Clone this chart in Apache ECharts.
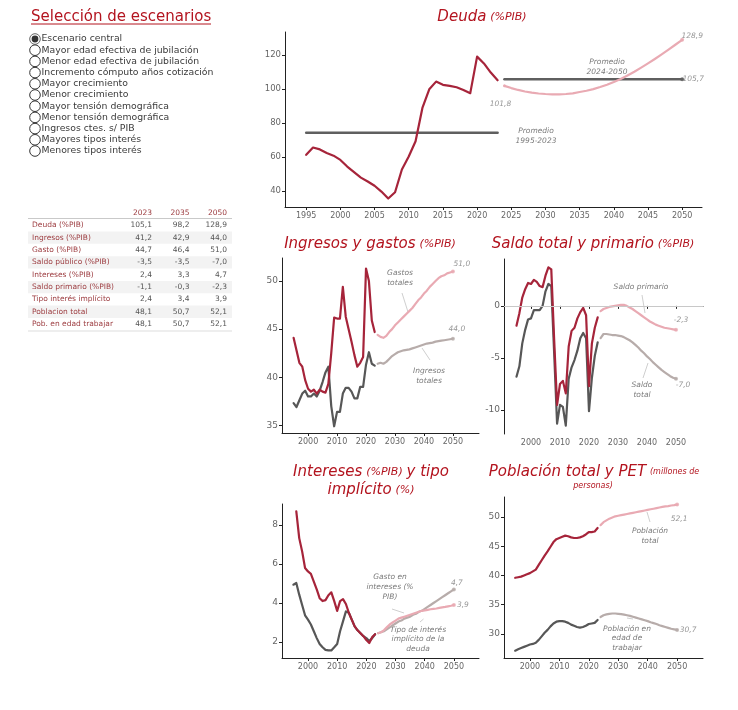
<!DOCTYPE html>
<html><head><meta charset="utf-8">
<script src="https://cdn.jsdelivr.net/npm/echarts@6/dist/echarts.min.js"></script>
<style>html,body{margin:0;padding:0;background:#fff}#c{width:738px;height:710px}</style>
</head><body><div id="c"></div>
<script>
// ---------------- DATA ----------------
const HIST_START = 1995;
const PROJ_START = 2024;
const TIPO_START = 1996;

const debtHist = [61.2, 65.5, 64.4, 62.3, 60.7, 58.2, 54.3, 51.0, 47.8, 45.5, 43.0, 39.6, 35.5, 39.2, 52.6, 60.2, 69.2, 88.8, 99.8, 104.3, 102.4, 101.8, 101.0, 99.4, 97.5, 119.0, 115.0, 109.6, 105.1];
const debtProj = [101.8, 100.5, 99.4, 98.5, 97.8, 97.3, 97.0, 96.8, 96.8, 97.0, 97.4, 98.2, 98.9, 99.9, 101.1, 102.5, 104.1, 105.9, 107.9, 110.1, 112.5, 115.0, 117.6, 120.3, 123.1, 126.0, 128.9];
const debtAvgHist = 74.2;
const debtAvgProj = 105.7;

const gastoHist = [44.1, 42.8, 41.5, 41.1, 39.7, 38.8, 38.5, 38.7, 38.3, 38.7, 38.5, 38.4, 39.3, 42.5, 46.2, 46.1, 46.1, 49.4, 46.3, 45.0, 43.7, 42.3, 41.1, 41.5, 42.1, 51.3, 50.0, 45.9, 44.7];
const gastoProj = [44.4, 44.2, 44.1, 44.3, 44.7, 45.0, 45.4, 45.7, 46.0, 46.3, 46.6, 46.9, 47.2, 47.6, 48.0, 48.3, 48.7, 49.0, 49.4, 49.7, 50.0, 50.3, 50.5, 50.6, 50.8, 50.9, 51.0];
const ingresoHist = [37.3, 36.9, 37.6, 38.3, 38.6, 38.0, 38.0, 38.3, 38.0, 38.6, 39.5, 40.5, 41.1, 37.0, 34.9, 36.4, 36.4, 38.3, 38.9, 38.9, 38.5, 37.8, 37.8, 39.0, 39.0, 41.3, 42.6, 41.4, 41.2];
const ingresoProj = [41.4, 41.5, 41.4, 41.6, 41.9, 42.2, 42.4, 42.6, 42.7, 42.8, 42.85, 42.9, 43.0, 43.1, 43.2, 43.3, 43.4, 43.5, 43.55, 43.6, 43.7, 43.75, 43.8, 43.85, 43.9, 43.95, 44.0];

const primHist = [-1.9, -0.7, 0.8, 1.6, 2.2, 2.1, 2.5, 2.3, 1.9, 1.8, 2.9, 3.7, 3.5, -3.3, -9.5, -7.5, -7.2, -8.4, -3.9, -2.4, -2.1, -1.2, -0.6, -0.2, -0.9, -7.7, -3.6, -2.1, -1.1];
const primProj = [-0.5, -0.3, -0.2, -0.1, -0.05, 0.0, 0.05, 0.1, 0.1, 0.0, -0.15, -0.3, -0.5, -0.7, -0.9, -1.1, -1.3, -1.5, -1.65, -1.8, -1.9, -2.0, -2.1, -2.15, -2.2, -2.25, -2.3];
const totHist = [-6.8, -5.8, -3.6, -2.3, -1.3, -1.2, -0.4, -0.4, -0.4, 0.0, 1.4, 2.1, 1.9, -4.6, -11.3, -9.5, -9.7, -11.5, -7.0, -5.9, -5.2, -4.3, -3.1, -2.6, -3.1, -10.1, -6.9, -4.8, -3.5];
const totProj = [-3.1, -2.7, -2.7, -2.75, -2.8, -2.8, -2.85, -2.9, -3.0, -3.15, -3.3, -3.5, -3.75, -4.0, -4.3, -4.55, -4.85, -5.1, -5.4, -5.65, -5.9, -6.15, -6.35, -6.55, -6.75, -6.9, -7.0];

const tipoHist = [8.7, 7.33, 6.65, 5.8, 5.62, 5.5, 5.1, 4.7, 4.25, 4.1, 4.15, 4.4, 4.55, 4.1, 3.6, 4.1, 4.2, 3.95, 3.5, 3.15, 2.8, 2.6, 2.45, 2.3, 2.1, 1.95, 2.25, 2.4];
const tipoProj = [2.45, 2.5, 2.6, 2.75, 2.9, 3.0, 3.1, 3.2, 3.25, 3.3, 3.35, 3.4, 3.45, 3.5, 3.55, 3.6, 3.62, 3.65, 3.68, 3.7, 3.72, 3.75, 3.78, 3.8, 3.83, 3.86, 3.9];
const interHist = [4.94, 5.03, 4.43, 3.9, 3.37, 3.15, 2.9, 2.55, 2.2, 1.9, 1.73, 1.6, 1.57, 1.57, 1.73, 1.9, 2.55, 3.06, 3.57, 3.5, 3.15, 2.8, 2.6, 2.45, 2.3, 2.2, 2.05, 2.2, 2.4];
const interProj = [2.45, 2.5, 2.55, 2.65, 2.75, 2.85, 2.95, 3.05, 3.1, 3.2, 3.25, 3.3, 3.4, 3.45, 3.55, 3.6, 3.7, 3.8, 3.9, 4.0, 4.1, 4.2, 4.3, 4.4, 4.5, 4.6, 4.7];

const pobHist = [39.6, 39.7, 39.8, 40.0, 40.2, 40.4, 40.7, 41.0, 41.8, 42.6, 43.4, 44.1, 44.9, 45.7, 46.2, 46.4, 46.6, 46.8, 46.7, 46.5, 46.4, 46.4, 46.5, 46.7, 47.0, 47.4, 47.4, 47.5, 48.1];
const pobProj = [48.6, 49.1, 49.4, 49.7, 49.9, 50.1, 50.2, 50.3, 50.4, 50.5, 50.6, 50.7, 50.8, 50.9, 51.0, 51.1, 51.2, 51.3, 51.4, 51.5, 51.6, 51.7, 51.8, 51.85, 51.95, 52.0, 52.1];
const petHist = [27.15, 27.4, 27.6, 27.8, 28.0, 28.2, 28.3, 28.5, 29.0, 29.6, 30.2, 30.7, 31.3, 31.8, 32.1, 32.2, 32.2, 32.1, 31.9, 31.6, 31.4, 31.2, 31.1, 31.2, 31.4, 31.7, 31.8, 31.9, 32.4];
const petProj = [32.9, 33.2, 33.35, 33.45, 33.5, 33.5, 33.45, 33.4, 33.3, 33.2, 33.1, 32.95, 32.8, 32.65, 32.5, 32.35, 32.2, 32.0, 31.85, 31.7, 31.5, 31.35, 31.2, 31.05, 30.9, 30.8, 30.7];

const debtTicksX = [1995, 2000, 2005, 2010, 2015, 2020, 2025, 2030, 2035, 2040, 2045, 2050];
const smallTicksX = [2000, 2010, 2020, 2030, 2040, 2050];
const debtTicksY = [40, 60, 80, 100, 120];
const ingTicksY = [35, 40, 45, 50];
const saldoTicksY = [-10, -5, 0];
const interTicksY = [2, 4, 6, 8];
const pobTicksY = [30, 35, 40, 45, 50];

const scenarios = ['Escenario central', 'Mayor edad efectiva de jubilación', 'Menor edad efectiva de jubilación', 'Incremento cómputo años cotización', 'Mayor crecimiento', 'Menor crecimiento', 'Mayor tensión demográfica', 'Menor tensión demográfica', 'Ingresos ctes. s/ PIB', 'Mayores tipos interés', 'Menores tipos interés'];
const tableYears = ['2023', '2035', '2050'];
const tableRows = ['Deuda (%PIB)', 'Ingresos (%PIB)', 'Gasto (%PIB)', 'Saldo público (%PIB)', 'Intereses (%PIB)', 'Saldo primario (%PIB)', 'Tipo interés implícito', 'Poblacion total', 'Pob. en edad trabajar'];
const tableValues = [
  ['105,1', '98,2', '128,9'],
  ['41,2', '42,9', '44,0'],
  ['44,7', '46,4', '51,0'],
  ['-3,5', '-3,5', '-7,0'],
  ['2,4', '3,3', '4,7'],
  ['-1,1', '-0,3', '-2,3'],
  ['2,4', '3,4', '3,9'],
  ['48,1', '50,7', '52,1'],
  ['48,1', '50,7', '52,1']
];

// ---------------- STYLE ----------------
const FONT = 'DejaVu Sans';
const RED = '#a6243a', PINK = '#e9aab3', DARK = '#575757', LIGHT = '#b7acaa', AVG = '#5f5f5f';
const TITLE_RED = '#b3141f', ANN = '#7a7a7a';

const pairs = (start, arr) => arr.map((v, i) => [start + i, v]);
const fmt = v => v.toFixed(1).replace('.', ',');

const grids = [
  {left: 285, top: 32, width: 417, height: 175},
  {left: 282, top: 258, width: 197, height: 175},
  {left: 504, top: 259, width: 199, height: 175},
  {left: 282, top: 504, width: 197, height: 154},
  {left: 504, top: 497, width: 199, height: 161}
];
const xr = [[1991.9, 2052.9], [1991, 2059], [1990.7, 2059.3], [1991.1, 2058.6], [1991.2, 2058.8]];
const yr = [[30.5, 133.5], [34.2, 52.4], [-12.3, 4.5], [1.18, 9.08], [25.9, 53.4]];
const xt = [debtTicksX, smallTicksX, smallTicksX, smallTicksX, smallTicksX];
const yt = [debtTicksY, ingTicksY, saldoTicksY, interTicksY, pobTicksY];

const axisCommon = {
  axisLine: {show: true, lineStyle: {color: '#222', width: 1}},
  splitLine: {show: false}
};
const xAxis = grids.map((g, i) => Object.assign({}, axisCommon, {
  type: 'value', gridIndex: i, min: xr[i][0], max: xr[i][1],
  axisTick: {show: true, length: 3, lineStyle: {color: '#222'}, customValues: xt[i]},
  axisLabel: {color: '#666', fontSize: 8, fontFamily: FONT, margin: 5, customValues: xt[i], formatter: v => String(v)}
}));
const yAxis = grids.map((g, i) => Object.assign({}, axisCommon, {
  type: 'value', gridIndex: i, min: yr[i][0], max: yr[i][1],
  axisTick: {show: true, length: 3, lineStyle: {color: '#222'}, customValues: yt[i]},
  axisLabel: {color: '#666', fontSize: i === 0 ? 8.5 : 9, fontFamily: FONT, margin: 4, customValues: yt[i], formatter: v => String(v)}
}));

function line(gi, data, color, width, z) {
  return {type: 'line', xAxisIndex: gi, yAxisIndex: gi, data, showSymbol: false, symbol: 'none',
    lineStyle: {color, width: width || 2, cap: 'round', join: 'round'}, z: z || 2, silent: true, animation: false};
}
function endPoint(gi, pt, color, offset, size) {
  return {type: 'scatter', xAxisIndex: gi, yAxisIndex: gi, data: [pt], symbolSize: size == null ? 4 : size,
    itemStyle: {color}, z: 5, silent: true, animation: false,
    label: {show: true, position: 'inside', offset, formatter: p => fmt(p.value[1]),
      color: ANN, fontSize: 7.5, fontStyle: 'italic', fontFamily: FONT}};
}
const last = (start, arr) => [start + arr.length - 1, arr[arr.length - 1]];

const series = [
  // Deuda
  line(0, [[HIST_START, debtAvgHist], [2023, debtAvgHist]], AVG, 2.5),
  line(0, [[PROJ_START, debtAvgProj], [2050, debtAvgProj]], AVG, 2.5),
  line(0, pairs(HIST_START, debtHist), RED, 2.2),
  line(0, pairs(PROJ_START, debtProj), PINK, 2.2),
  endPoint(0, last(PROJ_START, debtProj), PINK, [10, -4]),
  endPoint(0, [2050, debtAvgProj], AVG, [11, 0]),
  endPoint(0, [PROJ_START, debtProj[0]], PINK, [-4, 18], 3),
  // Ingresos y gastos
  line(1, pairs(HIST_START, ingresoHist), DARK, 2.2),
  line(1, pairs(HIST_START, gastoHist), RED, 2.2, 3),
  line(1, pairs(PROJ_START, gastoProj), PINK, 2.2),
  line(1, pairs(PROJ_START, ingresoProj), LIGHT, 2.2),
  endPoint(1, last(PROJ_START, gastoProj), PINK, [9, -7]),
  endPoint(1, last(PROJ_START, ingresoProj), LIGHT, [4, -10]),
  // Saldo
  Object.assign(line(2, pairs(HIST_START, totHist), DARK, 2.2), {
    markLine: {silent: true, symbol: 'none', label: {show: false}, animation: false,
      lineStyle: {color: '#c8c8c8', width: 1, type: 'solid'}, data: [{yAxis: 0}]}
  }),
  line(2, pairs(HIST_START, primHist), RED, 2.2, 3),
  line(2, pairs(PROJ_START, primProj), PINK, 2.2),
  line(2, pairs(PROJ_START, totProj), LIGHT, 2.2),
  endPoint(2, last(PROJ_START, primProj), PINK, [5, -10]),
  endPoint(2, last(PROJ_START, totProj), LIGHT, [7, 6]),
  // Intereses
  line(3, pairs(HIST_START, interHist), DARK, 2.2),
  line(3, pairs(TIPO_START, tipoHist), RED, 2.2, 3),
  line(3, pairs(PROJ_START, interProj), LIGHT, 2.2),
  line(3, pairs(PROJ_START, tipoProj), PINK, 2.2),
  endPoint(3, last(PROJ_START, interProj), LIGHT, [3, -6]),
  endPoint(3, last(PROJ_START, tipoProj), PINK, [9, 0]),
  // Poblacion
  line(4, pairs(HIST_START, pobHist), RED, 2.2),
  line(4, pairs(HIST_START, petHist), DARK, 2.2),
  line(4, pairs(PROJ_START, pobProj), PINK, 2.2),
  line(4, pairs(PROJ_START, petProj), LIGHT, 2.2),
  endPoint(4, last(PROJ_START, pobProj), PINK, [2, 14]),
  endPoint(4, last(PROJ_START, petProj), LIGHT, [11, 0])
];

// ---------------- GRAPHICS (titles, legend, table, notes) ----------------
const g = [];
const txt = (x, y, text, style) => g.push({type: 'text', x, y, silent: true,
  style: Object.assign({text, fontFamily: FONT, align: 'left', verticalAlign: 'middle'}, style)});
const seg = (x1, y1, x2, y2, color, w) => g.push({type: 'line', silent: true,
  shape: {x1, y1, x2, y2}, style: {stroke: color, lineWidth: w || 1}});

const richT = {
  a: {fontSize: 15, fontStyle: 'italic', fill: TITLE_RED, fontFamily: FONT},
  b: {fontSize: 11, fontStyle: 'italic', fill: TITLE_RED, fontFamily: FONT},
  c: {fontSize: 8, fontStyle: 'italic', fill: TITLE_RED, fontFamily: FONT}
};
const title = (x, y, text) => g.push({type: 'text', x, y, silent: true,
  style: {text, rich: richT, align: 'center', verticalAlign: 'middle', fontFamily: FONT}});
title(482, 17, '{a|Deuda} {b|(%PIB)}');
title(370, 244, '{a|Ingresos y gastos} {b|(%PIB)}');
title(593, 244, '{a|Saldo total y primario} {b|(%PIB)}');
title(371, 472, '{a|Intereses} {b|(%PIB)} {a|y tipo}');
title(371, 490, '{a|implícito} {b|(%)}');
title(594, 472, '{a|Población total y PET} {c|(millones de}');
title(593, 486, '{c|personas)}');

// Left title
txt(31, 17, 'Selección de escenarios', {fontSize: 15, fill: TITLE_RED});
seg(31, 24, 211, 24, TITLE_RED, 1);

// Radio list
scenarios.forEach((s, i) => {
  const y = 39 + i * 11.2;
  g.push({type: 'circle', silent: true, shape: {cx: 35, cy: y, r: 5.3},
    style: {fill: '#fff', stroke: i === 0 ? '#666' : '#333', lineWidth: 1}});
  if (i === 0) g.push({type: 'circle', silent: true, shape: {cx: 35, cy: y, r: 3.4}, style: {fill: '#333'}});
  txt(41.5, y, s, {fontSize: 9.3, fill: '#3a3a3a'});
});

// Table
const TCOL = '#9c3b3f';
const colX = [152, 189.5, 227];
const rowY0 = 225.3, rowH = 12.35;
tableRows.forEach((r, i) => {
  const y = rowY0 + i * rowH;
  if (i % 2 === 1) g.push({type: 'rect', silent: true, z: -1, shape: {x: 28, y: y - rowH / 2, width: 204, height: rowH},
    style: {fill: '#f3f3f3'}});
});
tableYears.forEach((t, j) => txt(colX[j], 213, t, {fontSize: 7.5, fill: TCOL, align: 'right'}));
seg(28, 218.5, 232, 218.5, '#c9c9c9', 1);
tableRows.forEach((r, i) => {
  const y = rowY0 + i * rowH;
  txt(32, y, r, {fontSize: 7.5, fill: TCOL});
  tableValues[i].forEach((v, j) => txt(colX[j], y, v, {fontSize: 7.5, fill: '#555', align: 'right'}));
});
seg(28, 331, 232, 331, '#dddddd', 1);

// Annotations
const ann = (x, y, text) => g.push({type: 'text', x, y, silent: true,
  style: {text, fontFamily: FONT, fontSize: 7.5, fontStyle: 'italic', fill: ANN, align: 'center',
    verticalAlign: 'middle', lineHeight: 9.6}});
const PTR = '#cfcfcf';
ann(607, 67, 'Promedio\n2024-2050');
ann(536, 136, 'Promedio\n1995-2023');
ann(400, 278, 'Gastos\ntotales'); seg(402, 293, 408, 312, PTR);
ann(429, 376, 'Ingresos\ntotales'); seg(422, 348, 430, 360, PTR);
ann(641, 287, 'Saldo primario'); seg(642, 295, 645, 313, PTR);
ann(642, 390, 'Saldo\ntotal'); seg(648, 363, 643, 378, PTR);
ann(390, 587, 'Gasto en\nintereses (%\nPIB)'); seg(392, 609, 404, 613, PTR);
ann(418, 639.5, 'Tipo de interés\nimplícito de la\ndeuda'); seg(420, 622, 423.5, 619, PTR);
ann(650, 536, 'Población\ntotal'); seg(647, 512, 650, 522, PTR);
ann(627, 638.5, 'Población en\nedad de\ntrabajar'); seg(627, 618, 633, 619, PTR);

const chart = echarts.init(document.getElementById('c'), null, {renderer: 'canvas'});
chart.setOption({
  backgroundColor: '#fff',
  animation: false,
  textStyle: {fontFamily: FONT},
  grid: grids,
  xAxis, yAxis, series,
  graphic: g
});
</script>
</body></html>
